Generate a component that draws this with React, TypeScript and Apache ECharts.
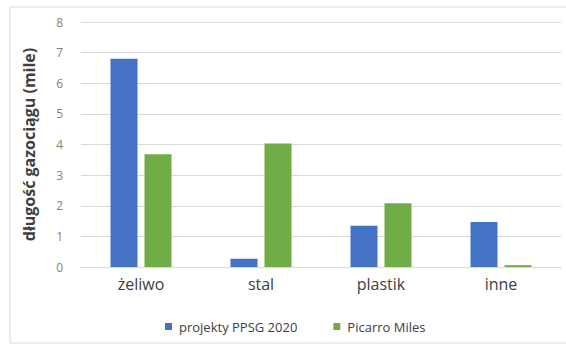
import React, { useEffect, useRef } from "react";
import * as echarts from "echarts";

const categories = ["żeliwo", "stal", "plastik", "inne"];
const seriesNames = ["projekty PPSG 2020", "Picarro Miles"];
const ppsgValues = [6.8, 0.27, 1.35, 1.47];
const picarroValues = [3.68, 4.03, 2.08, 0.06];
const yAxisTitle = "długość gazociągu (mile)";

export default function App() {
  const ref = useRef<HTMLDivElement>(null);
  useEffect(() => {
    if (!ref.current) return;
    const chart = echarts.init(ref.current, null, { renderer: "svg" });
    const font = "Open Sans";
    chart.setOption({
      animation: false,
      backgroundColor: "#ffffff",
      textStyle: { fontFamily: font },
      graphic: [
        {
          type: "rect",
          shape: { x: 10, y: 7, width: 620, height: 336 },
          style: { fill: "none", stroke: "#d9d9d9", lineWidth: 1 },
          silent: true,
        },
      ],
      grid: { left: 81, right: 5, top: 22, bottom: 79 },
      legend: {
        data: seriesNames,
        left: 160,
        top: 315,
        itemWidth: 7,
        itemHeight: 7,
        itemGap: 36,
        icon: "rect",
        textStyle: { fontFamily: font, fontSize: 13, color: "#404040", padding: [0, 0, 0, 2] },
      },
      xAxis: {
        type: "category",
        data: categories,
        axisLine: { show: true, lineStyle: { color: "#d9d9d9" } },
        axisTick: { show: false },
        axisLabel: { fontFamily: font, fontSize: 16, color: "#404040", margin: 9 },
      },
      yAxis: {
        type: "value",
        min: 0,
        max: 8,
        interval: 1,
        name: yAxisTitle,
        nameLocation: "middle",
        nameGap: 44,
        nameTextStyle: { fontFamily: font, fontSize: 16, fontWeight: "bold", color: "#404040" },
        axisLine: { show: false },
        axisTick: { show: false },
        axisLabel: { fontFamily: font, fontSize: 12, color: "#8c8070", margin: 18 },
        splitLine: { lineStyle: { color: "#d9d9d9", width: 1 } },
      },
      series: [
        {
          name: seriesNames[0],
          type: "bar",
          data: ppsgValues,
          barWidth: 27,
          barGap: "26%",
          itemStyle: { color: "#4472C4" },
        },
        {
          name: seriesNames[1],
          type: "bar",
          data: picarroValues,
          barWidth: 27,
          itemStyle: { color: "#70AD47" },
        },
      ],
    });
    return () => chart.dispose();
  }, []);
  return (
    <div
      ref={ref}
      style={{ position: "fixed", left: 0, top: 0, width: 566, height: 346 }}
    />
  );
}
